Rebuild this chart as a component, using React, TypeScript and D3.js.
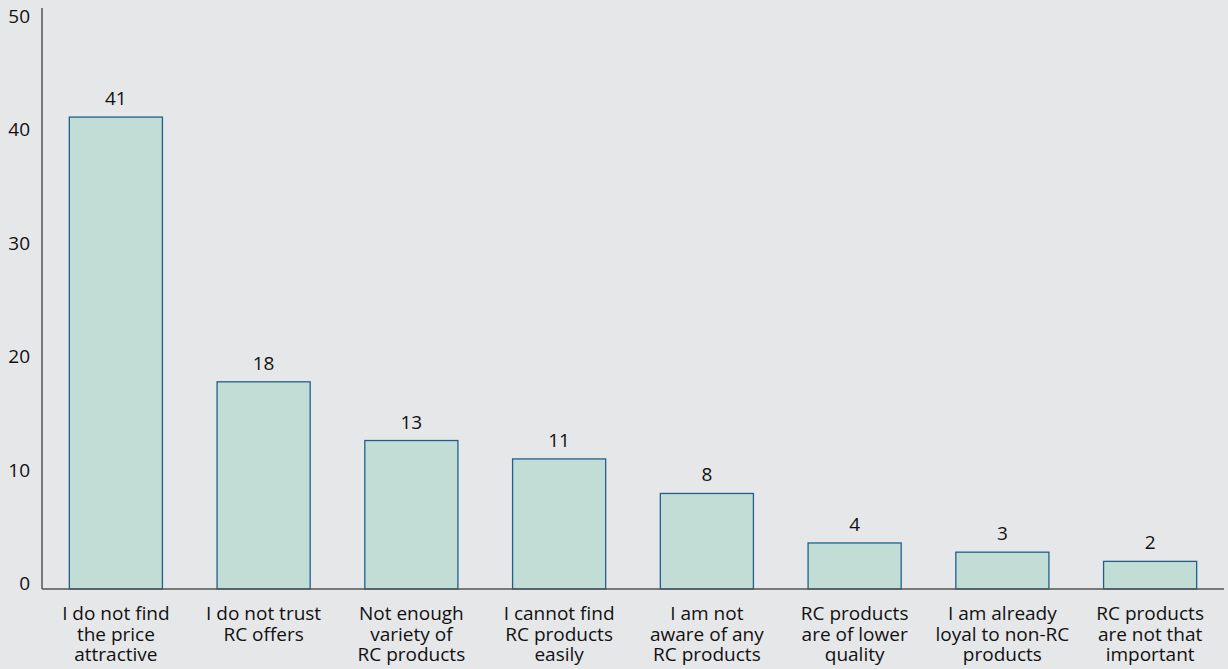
import React from "react";
import * as d3 from "d3";

const categories: string[][] = [
  ["I do not find", "the price", "attractive"],
  ["I do not trust", "RC offers"],
  ["Not enough", "variety of", "RC products"],
  ["I cannot find", "RC products", "easily"],
  ["I am not", "aware of any", "RC products"],
  ["RC products", "are of lower", "quality"],
  ["I am already", "loyal to non-RC", "products"],
  ["RC products", "are not that", "important"],
];
const values: number[] = [41, 18, 12.9, 11.3, 8.3, 4, 3.2, 2.4];
const valueLabels: string[] = ["41", "18", "13", "11", "8", "4", "3", "2"];
const yTicks: number[] = [0, 10, 20, 30, 40, 50];

const W = 1228;
const H = 669;
const left = 42;
const right = 1224;
const baseY = 589;
const topY = 13.5;

export default function App() {
  const x = d3
    .scaleBand<number>()
    .domain(values.map((_, i) => i))
    .range([left, right])
    .paddingInner(0.37)
    .paddingOuter(0.185);
  const y = d3.scaleLinear().domain([0, 50]).range([baseY, topY]);
  const yLabel = d3.scaleLinear().domain([0, 50]).range([583, 16]);
  const font = "'Open Sans', 'Noto Sans', sans-serif";
  return (
    <svg
      width={W}
      height={H}
      style={{ position: "fixed", top: 0, left: 0, display: "block" }}
      fontFamily={font}
    >
      <rect x={0} y={0} width={W} height={H} fill="#e6e7e9" />
      {yTicks.map((t) => (
        <text
          key={t}
          x={30}
          y={yLabel(t)}
          textAnchor="end"
          dominantBaseline="central"
          fontSize={19}
          fill="#111"
        >
          {t}
        </text>
      ))}
      {values.map((v, i) => {
        const bx = x(i)!;
        const bw = x.bandwidth();
        return (
          <g key={i}>
            <rect
              x={bx}
              y={y(v)}
              width={bw}
              height={baseY - y(v)}
              fill="#c2ddd6"
              stroke="#1f5f8c"
              strokeWidth={1.3}
            />
            <text
              x={bx + bw / 2}
              y={y(v) - 12}
              textAnchor="middle"
              fontSize={19}
              fill="#111"
            >
              {valueLabels[i]}
            </text>
            {categories[i].map((line, j) => (
              <text
                key={j}
                x={bx + bw / 2}
                y={620 + j * 20.5}
                textAnchor="middle"
                fontSize={19}
                fill="#111"
              >
                {line}
              </text>
            ))}
          </g>
        );
      })}
      <line x1={left} x2={left} y1={8} y2={baseY} stroke="#555" strokeWidth={1.5} />
      <line x1={left} x2={right} y1={baseY} y2={baseY} stroke="#555" strokeWidth={1.5} />
    </svg>
  );
}
